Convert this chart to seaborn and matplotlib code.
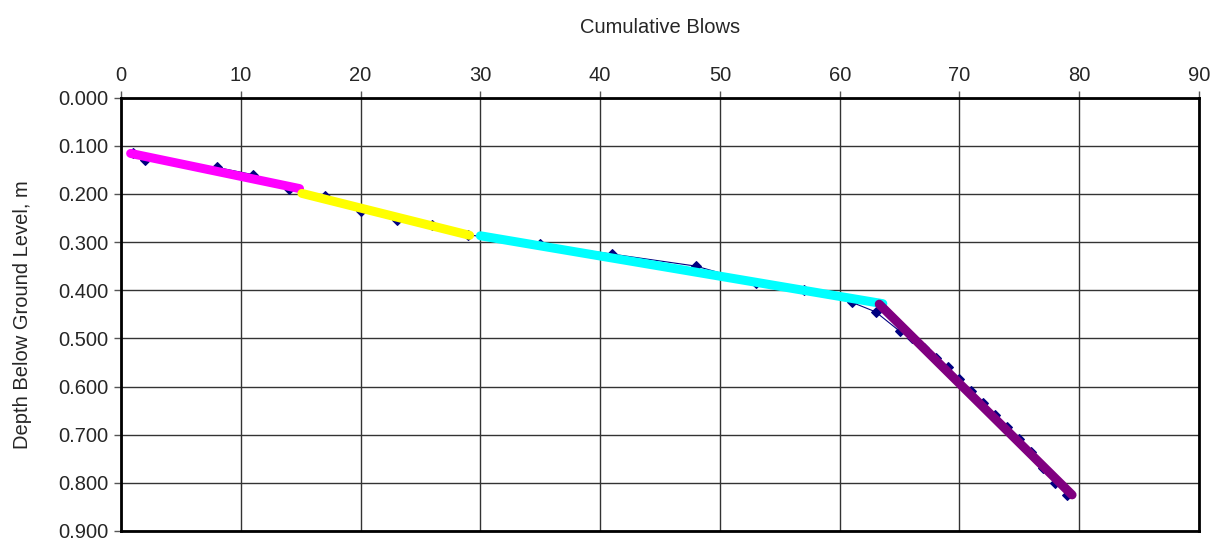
import matplotlib
matplotlib.use("Agg")
import matplotlib.pyplot as plt
import seaborn as sns
import pandas as pd
from matplotlib.ticker import FormatStrFormatter, MultipleLocator

# Dynamic probe record: cumulative blows vs. penetration depth
blows = [1, 2, 8, 11, 14, 17, 20, 23, 26, 29, 35, 41, 48, 53, 57, 61, 63,
         65, 66, 67, 68, 69, 70, 71, 72, 73, 74, 75, 76, 77, 78, 79]
depth = [0.115, 0.130, 0.145, 0.160, 0.190, 0.205, 0.235, 0.255, 0.265, 0.285,
         0.305, 0.325, 0.350, 0.385, 0.400, 0.425, 0.445,
         0.485, 0.500, 0.520, 0.540, 0.560, 0.585, 0.610, 0.635, 0.660,
         0.685, 0.710, 0.735, 0.770, 0.800, 0.825]

# Straight-line fits for each layer (start/end blows and depths)
fit_blows_start = [0.8, 15.1, 30.0, 63.3]
fit_blows_end = [14.9, 29.1, 63.6, 79.4]
fit_depth_start = [0.116, 0.199, 0.287, 0.429]
fit_depth_end = [0.189, 0.286, 0.428, 0.825]
fit_colors = ["#FF00FF", "#FFFF00", "#00FFFF", "#800080"]

x_ticks = list(range(0, 91, 10))

sns.set_style("white")
plt.rcParams["font.family"] = ["Liberation Sans", "DejaVu Sans"]

fig = plt.figure(figsize=(12.24, 5.42), dpi=100)
ax = fig.add_axes([0.0989, 0.0203, 0.8807, 0.7997])

df = pd.DataFrame({"blows": blows, "depth": depth})
sns.lineplot(data=df, x="blows", y="depth", sort=False, ax=ax,
             color="#000080", linewidth=0.8, marker="D", markersize=5,
             markeredgecolor="#000080", markerfacecolor="#000080", zorder=3)

for xs, xe, ys, ye, c in zip(fit_blows_start, fit_blows_end,
                             fit_depth_start, fit_depth_end, fit_colors):
    seg = pd.DataFrame({"blows": [xs, xe], "depth": [ys, ye]})
    sns.lineplot(data=seg, x="blows", y="depth", sort=False, ax=ax,
                 color=c, linewidth=6.5, solid_capstyle="round", zorder=4)

ax.set_xlim(0, 90)
ax.set_ylim(0.9, 0.0)
ax.set_xticks(x_ticks)
ax.yaxis.set_major_locator(MultipleLocator(0.1))
ax.yaxis.set_major_formatter(FormatStrFormatter("%.3f"))

ax.xaxis.tick_top()
ax.xaxis.set_label_position("top")
ax.set_xlabel("Cumulative Blows", fontsize=14.5, labelpad=24)
ax.set_ylabel("Depth Below Ground Level, m", fontsize=14.5, labelpad=19)

ax.tick_params(axis="both", labelsize=14.5, length=5, width=1,
               color="#555555", direction="out", pad=4)
ax.tick_params(axis="x", top=True, bottom=False)
ax.tick_params(axis="y", left=True)

ax.grid(True, color="#333333", linewidth=1)
ax.set_axisbelow(True)
for s in ax.spines.values():
    s.set_color("black")
    s.set_linewidth(2)
    s.set_visible(True)

fig.savefig("out.png", dpi=100)
